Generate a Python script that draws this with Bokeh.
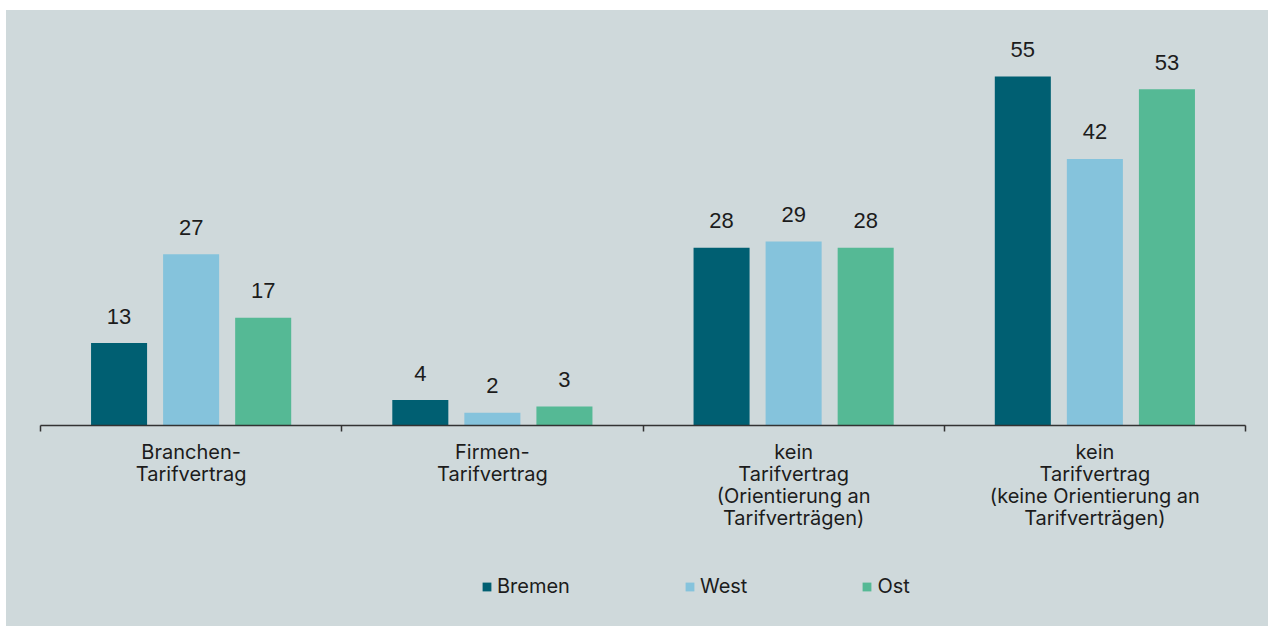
from bokeh.plotting import figure
from bokeh.models import Range1d, LinearAxis, FixedTicker, Legend, LegendItem, Spacer
from bokeh.layouts import column, row
from bokeh.embed import file_html
from bokeh.resources import INLINE
from bokeh.core.properties import value
import numpy as np

categories = [
    "Branchen-\nTarifvertrag",
    "Firmen-\nTarifvertrag",
    "kein\nTarifvertrag\n(Orientierung an\nTarifverträgen)",
    "kein\nTarifvertrag\n(keine Orientierung an\nTarifverträgen)",
]
series = ["Bremen", "West", "Ost"]
bremen = [13, 4, 28, 55]
west = [27, 2, 29, 42]
ost = [17, 3, 28, 53]
colors = ["#005f72", "#85c3dc", "#55b995"]

BG = "#cfd9db"
TXT = "#1c1c1c"
LABEL_FONT = "Inter"
NUM_FONT = "Liberation Sans"

p = figure(width=1262, height=546, x_range=Range1d(0, 4), y_range=Range1d(0, 62.25),
           output_backend="svg", toolbar_location=None,
           x_axis_type=None, y_axis_type=None,
           min_border_left=34, min_border_right=23, min_border_top=20, min_border_bottom=131)
p.background_fill_color = BG
p.border_fill_color = BG
p.outline_line_color = None

n = len(categories)
centers = np.arange(n) + 0.5
xaxis = LinearAxis(
    ticker=FixedTicker(ticks=list(centers), minor_ticks=list(range(n + 1))),
    major_label_overrides={float(c): lab for c, lab in zip(centers, categories)},
)
xaxis.major_tick_out = 0
xaxis.major_tick_in = 0
xaxis.minor_tick_out = 6
xaxis.minor_tick_in = 0
xaxis.minor_tick_line_color = "#333333"
xaxis.minor_tick_line_width = 1.5
xaxis.axis_line_color = "#333333"
xaxis.axis_line_width = 1.5
xaxis.major_label_text_font = LABEL_FONT
xaxis.major_label_text_font_size = "20px"
xaxis.major_label_text_color = TXT
xaxis.major_label_text_line_height = 0.92
xaxis.major_label_standoff = 8
p.add_layout(xaxis, "below")

offsets = [-0.2392, 0.0, 0.2392]
all_vals = [bremen, west, ost]
for name, vals, col, off in zip(series, all_vals, colors, offsets):
    xs = centers + off
    p.vbar(x=xs, top=vals, width=0.186, fill_color=col, line_color=None)
    p.text(x=xs, y=vals, text=[str(v) for v in vals], text_align="center",
           text_baseline="middle", y_offset=-27, text_font=value(NUM_FONT),
           text_font_size="22px", text_color=TXT)

# legend strip below the chart (hidden copies of the series supply the swatches)
leg = figure(width=1262, height=70, x_range=Range1d(0, 4), y_range=Range1d(0, 62.25),
             output_backend="svg", toolbar_location=None,
             x_axis_type=None, y_axis_type=None,
             min_border_left=0, min_border_right=0, min_border_top=0, min_border_bottom=0)
leg.background_fill_color = BG
leg.border_fill_color = BG
leg.outline_line_color = None
items = []
for name, vals, col, off in zip(series, all_vals, colors, offsets):
    r = leg.vbar(x=centers + off, top=vals, width=0.186, fill_color=col, line_color=None,
                 visible=False)
    items.append(LegendItem(label=name, renderers=[r]))
legend = Legend(items=items, orientation="horizontal", location=(441, 28),
                glyph_width=11, glyph_height=11, label_standoff=5, spacing=114,
                padding=0, margin=0, border_line_color=None, background_fill_alpha=0,
                inactive_fill_alpha=0,
                label_text_font=LABEL_FONT, label_text_font_size="20px",
                label_text_color=TXT)
leg.add_layout(legend, "center")

inner = column(p, leg, styles={"background-color": BG})
layout = column(Spacer(height=10), row(Spacer(width=6), inner))
open("out.html", "w").write(file_html(layout, INLINE))
